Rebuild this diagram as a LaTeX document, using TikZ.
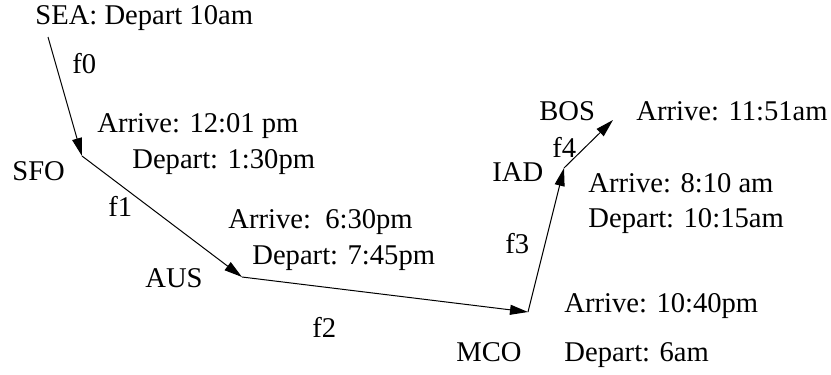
\documentclass[tikz,border=0pt]{standalone}
\usepackage{fontspec}
\setmainfont{Liberation Serif}
\usepackage{tikz}
\usetikzlibrary{arrows.meta}

\begin{document}
\begin{tikzpicture}[
    x=0.5pt, y=-0.5pt,
    %% Text labels, placed by their baseline
    lbl/.style = {anchor=base west, inner sep=0pt,
      font=\fontsize{14.3}{16}\selectfont},
    %% Flight legs
    leg/.style = {-{Triangle[length=9pt, width=5pt]}, line width=0.5pt, black},
  ]
    \useasboundingbox (0,0) rectangle (831,375);

    %% ── Airports (route corners) ───────────────────────────────────────
    \coordinate (sea) at (48,37);
    \coordinate (sfo) at (82,156);
    \coordinate (aus) at (242,277);
    \coordinate (mco) at (528,312);
    \coordinate (iad) at (564,168);
    \coordinate (bos) at (613,120);

    %% ── Legs ───────────────────────────────────────────────────────────
    \draw[leg] (sea) -- (sfo);
    \draw[leg] (sfo) -- (aus);
    \draw[leg] (aus) -- (mco);
    \draw[leg] (mco) -- (iad);
    \draw[leg] (iad) -- (bos);

    %% ── Airport names and times ────────────────────────────────────────
    \node[lbl] (seaT)  at (35,25)   {SEA: Depart 10am};
    \node[lbl] (sfoN)  at (12,180)  {SFO};
    \node[lbl] (sfoA)  at (97,132)  {Arrive: 12:01 pm};
    \node[lbl] (sfoD)  at (132,168) {Depart: 1:30pm};
    \node[lbl] (ausN)  at (145,287) {AUS};
    \node[lbl] (ausA)  at (228,228) {Arrive:\ \ 6:30pm};
    \node[lbl] (ausD)  at (252,264) {Depart: 7:45pm};
    \node[lbl] (mcoN)  at (456,361) {MCO};
    \node[lbl] (mcoA)  at (564,312) {Arrive: 10:40pm};
    \node[lbl] (mcoD)  at (564,361) {Depart: 6am};
    \node[lbl] (iadN)  at (492,181) {IAD};
    \node[lbl] (iadA)  at (588,192) {Arrive: 8:10 am};
    \node[lbl] (iadD)  at (588,227) {Depart: 10:15am};
    \node[lbl] (bosN)  at (539,120) {BOS};
    \node[lbl] (bosA)  at (636,120) {Arrive: 11:51am};

    %% ── Flight numbers ─────────────────────────────────────────────────
    \node[lbl] (f0) at (72,73)   {f0};
    \node[lbl] (f1) at (108,216) {f1};
    \node[lbl] (f2) at (312,337) {f2};
    \node[lbl] (f3) at (505,253) {f3};
    \node[lbl] (f4) at (552,157) {f4};

  \end{tikzpicture}
\end{document}
